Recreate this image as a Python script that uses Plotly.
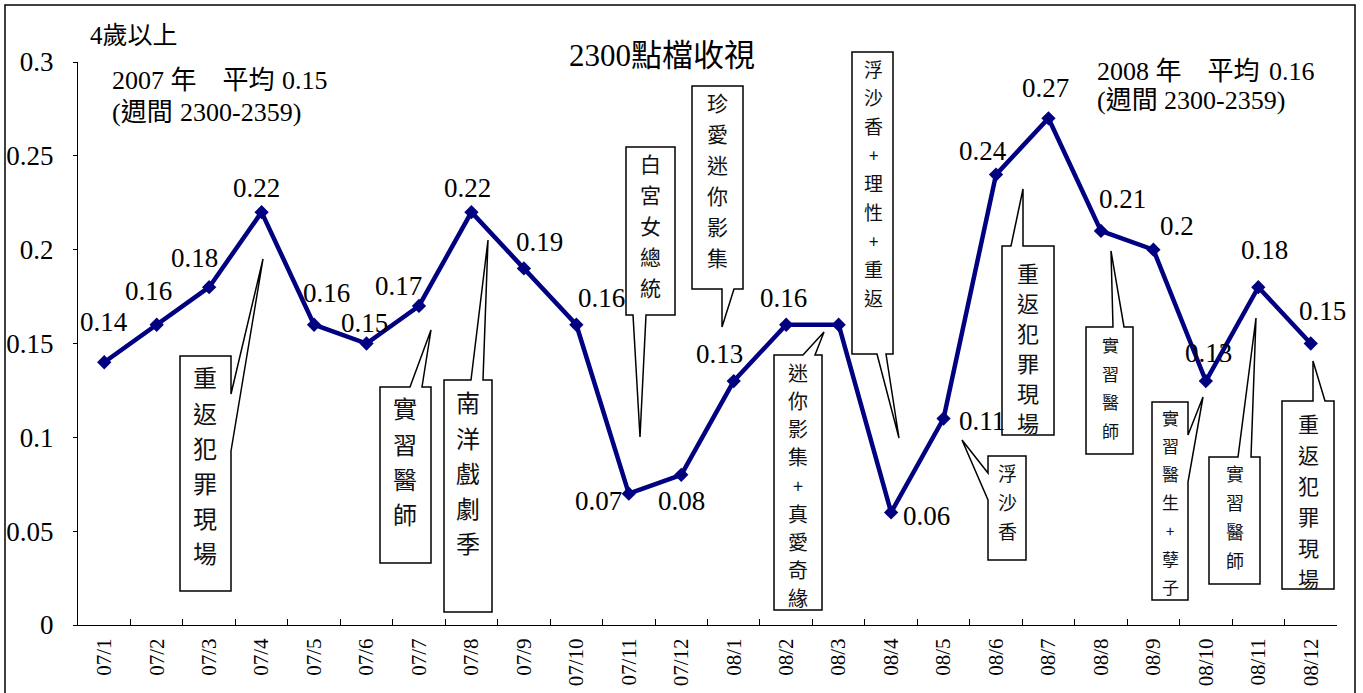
import plotly.graph_objects as go

# ---------------- data ----------------
categories = ["07/1", "07/2", "07/3", "07/4", "07/5", "07/6", "07/7", "07/8", "07/9", "07/10", "07/11", "07/12",
              "08/1", "08/2", "08/3", "08/4", "08/5", "08/6", "08/7", "08/8", "08/9", "08/10", "08/11", "08/12"]
ratings = [0.14, 0.16, 0.18, 0.22, 0.16, 0.15, 0.17, 0.22, 0.19, 0.16, 0.07, 0.08,
           0.13, 0.16, 0.16, 0.06, 0.11, 0.24, 0.27, 0.21, 0.20, 0.13, 0.18, 0.15]
value_labels = ["0.14", "0.16", "0.18", "0.22", "0.16", "0.15", "0.17", "0.22", "0.19", "0.16", "0.07", "0.08",
                "0.13", "0.16", "", "0.06", "0.11", "0.24", "0.27", "0.21", "0.2", "0.13", "0.18", "0.15"]
callout_texts = ["重返犯罪現場", "實習醫師", "南洋戲劇季", "白宮女總統", "珍愛迷你影集", "迷你影集+真愛奇緣",
                 "浮沙香+理性+重返", "浮沙香", "重返犯罪現場", "實習醫師", "實習醫生+孽子", "實習醫師", "重返犯罪現場"]
title_text = "2300點檔收視"
unit_text = "4歲以上"
# (CJK part, Latin part) pairs for the yearly notes
note_2007 = [("2007 年　平均", "0.15"), ("(週間", "2300-2359)")]
note_2008 = [("2008 年　平均", "0.16"), ("(週間", "2300-2359)")]

# ---------------- styles / layout ----------------
W, H = 1363, 693
L, R, T, B = 78, 1337, 62, 625           # plot area in screen pixels
NAVY = "#000080"
SERIF = "Liberation Serif, Noto Sans CJK TC"
CJK = "Noto Sans CJK TC, Liberation Serif"

# label offsets in pixels (dx right, dy down) relative to each point
label_offsets = [(0, -40), (-8, -34), (-15, -29), (-5, -24), (12, -32), (-2, -21), (-20, -20), (-4, -24),
                 (16, -26), (25, -27), (-30, 7), (0, 26), (-14, -27), (-3, -27), (0, 0), (35, 4),
                 (38, 2), (-13, -24), (-3, -30), (22, -32), (24, -24), (3, -28), (6, -37), (12, -33)]

# callout layout in screen pixels
callout_layout = [
    dict(box=(180, 356, 231, 591), side="right", base=(394, 451), tip=(263, 259), cx=205, cy=377, pitch=35, fs=24),
    dict(box=(380, 387, 431, 563), side="top", base=(410, 422), tip=(431, 330), cx=405, cy=408, pitch=35, fs=24),
    dict(box=(444, 380, 492, 612), side="top", base=(471, 483), tip=(488, 240), cx=468, cy=402, pitch=35, fs=24),
    dict(box=(626, 147, 675, 315), side="bottom", base=(633, 646), tip=(640, 437), cx=650, cy=163, pitch=31, fs=21),
    dict(box=(692, 86, 743, 289), side="bottom", base=(722, 734), tip=(722, 327), cx=717, cy=102, pitch=31, fs=21),
    dict(box=(774, 355, 822, 610), side="top", base=(803, 815), tip=(824, 332), cx=798, cy=372, pitch=28.2, fs=20),
    dict(box=(852, 52, 893, 354), side="bottom", base=(877, 886), tip=(899, 438), cx=873, cy=68, pitch=28.7, fs=19),
    dict(box=(988, 456, 1026, 560), side="left", base=(473, 500), tip=(962, 440), cx=1007, cy=472, pitch=29, fs=19),
    dict(box=(1002, 246, 1054, 435), side="top", base=(1011, 1023), tip=(1023, 189), cx=1028, cy=272, pitch=30, fs=22),
    dict(box=(1086, 327, 1133, 454), side="top", base=(1113, 1124), tip=(1111, 251), cx=1110, cy=345, pitch=28.5, fs=17),
    dict(box=(1152, 402, 1188, 600), side="right", base=(435, 482), tip=(1203, 397), cx=1170, cy=417, pitch=28.3, fs=17),
    dict(box=(1209, 457, 1260, 584), side="top", base=(1238, 1251), tip=(1256, 318), cx=1235, cy=473, pitch=29, fs=18),
    dict(box=(1282, 401, 1334, 589), side="top", base=(1313, 1325), tip=(1313, 361), cx=1308, cy=423, pitch=31, fs=21),
]
# note layout in screen pixels: (left x, latin part left x, centre y) for each line
note_2007_pos = [(110, 280, 80), (110, 178, 112)]
note_2008_pos = [(1095, 1267, 71), (1095, 1162, 101)]


def px(x):
    return (x - L) / (R - L)


def py(y):
    return (B - y) / (B - T)


fig = go.Figure()
fig.add_trace(go.Scatter(
    x=categories, y=ratings, mode="lines+markers",
    line=dict(color=NAVY, width=4.5),
    marker=dict(symbol="diamond", size=11, color=NAVY),
    cliponaxis=False, hoverinfo="x+y", showlegend=False,
))

annotations = []
for cat, val, lab, (dx, dy) in zip(categories, ratings, value_labels, label_offsets):
    if not lab:
        continue
    annotations.append(dict(x=cat, y=val, xref="x", yref="y", text=lab, showarrow=False,
                            xshift=dx, yshift=-dy, xanchor="center", yanchor="middle",
                            font=dict(family=SERIF, size=27, color="black")))

shapes = []
for text, c in zip(callout_texts, callout_layout):
    x0, y0, x1, y1 = c["box"]
    a, b = c["base"]
    tx, ty = c["tip"]
    s = c["side"]
    if s == "top":
        pts = [(x0, y0), (a, y0), (tx, ty), (b, y0), (x1, y0), (x1, y1), (x0, y1)]
    elif s == "bottom":
        pts = [(x0, y0), (x1, y0), (x1, y1), (b, y1), (tx, ty), (a, y1), (x0, y1)]
    elif s == "right":
        pts = [(x0, y0), (x1, y0), (x1, a), (tx, ty), (x1, b), (x1, y1), (x0, y1)]
    else:
        pts = [(x0, y0), (x1, y0), (x1, y1), (x0, y1), (x0, b), (tx, ty), (x0, a)]
    path = "M " + " L ".join(f"{px(p[0]):.5f},{py(p[1]):.5f}" for p in pts) + " Z"
    shapes.append(dict(type="path", xref="paper", yref="paper", path=path,
                       fillcolor="white", line=dict(color="black", width=1.5), layer="above"))
    for k, ch in enumerate(text):
        annotations.append(dict(x=px(c["cx"]), y=py(c["cy"] + k * c["pitch"]), xref="paper", yref="paper",
                                text=ch, showarrow=False, xanchor="center", yanchor="middle",
                                font=dict(family=CJK, size=c["fs"] if ch != "+" else c["fs"] - 2, color="#111")))

annotations.append(dict(x=px(662), y=py(55), xref="paper", yref="paper", text=title_text, showarrow=False,
                        xanchor="center", yanchor="middle", font=dict(family=SERIF, size=31, color="black")))
annotations.append(dict(x=px(88), y=py(35), xref="paper", yref="paper", text=unit_text, showarrow=False,
                        xanchor="left", yanchor="middle", font=dict(family=SERIF, size=25, color="black")))
for lines, pos in ((note_2007, note_2007_pos), (note_2008, note_2008_pos)):
    for (cj, la), (xl, xla, yc) in zip(lines, pos):
        annotations.append(dict(x=px(xl), y=py(yc), xref="paper", yref="paper", text=cj,
                                showarrow=False, xanchor="left", yanchor="middle",
                                font=dict(family=SERIF, size=26, color="black")))
        annotations.append(dict(x=px(xla), y=py(yc), xref="paper", yref="paper", text=la,
                                showarrow=False, xanchor="left", yanchor="middle",
                                font=dict(family="Liberation Serif", size=26, color="black")))

# outer frame
shapes.append(dict(type="rect", xref="paper", yref="paper", x0=px(5), x1=px(1355), y0=py(720), y1=py(5),
                   line=dict(color="black", width=1.5), fillcolor="rgba(0,0,0,0)", layer="below"))

fig.update_layout(
    width=W, height=H,
    margin=dict(l=L, r=W - R, t=T, b=H - B, autoexpand=False),
    paper_bgcolor="white", plot_bgcolor="white",
    annotations=annotations, shapes=shapes,
    showlegend=False,
    xaxis=dict(type="category", range=[-0.5, 23.5], tickson="boundaries", ticks="inside", ticklen=6,
               tickcolor="black", showline=True, linecolor="black", linewidth=1.2, showgrid=False,
               tickangle=-90, tickfont=dict(family=SERIF, size=21, color="black"), ticklabelstandoff=4,
               zeroline=False, fixedrange=True, automargin=False),
    yaxis=dict(range=[0, 0.3], dtick=0.05, ticks="outside", ticklen=4, tickcolor="black",
               showline=True, linecolor="black", linewidth=1.2, showgrid=False, zeroline=False,
               tickfont=dict(family=SERIF, size=27, color="black"), ticklabelstandoff=14, fixedrange=True,
               automargin=False),
)

fig.write_html("out.html", config={"displayModeBar": False},
               post_script="document.body.style.margin='0';document.body.style.overflow='hidden';")
